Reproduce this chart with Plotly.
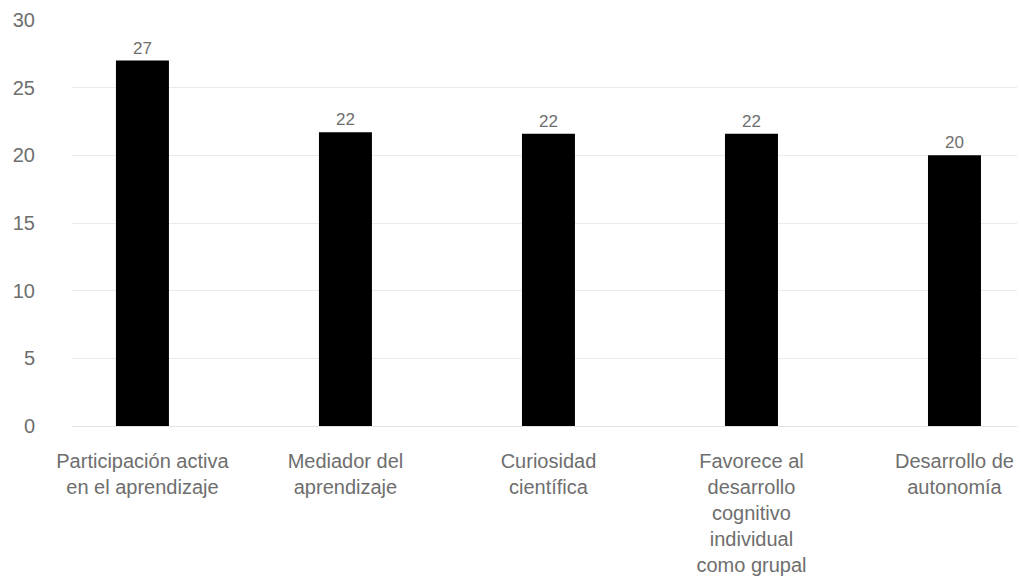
import plotly.graph_objects as go

categories = [
    "Participación activa<br>en el aprendizaje",
    "Mediador del<br>aprendizaje",
    "Curiosidad<br>científica",
    "Favorece al<br>desarrollo<br>cognitivo<br>individual<br>como grupal",
    "Desarrollo de<br>autonomía",
]
values = [27, 21.7, 21.6, 21.6, 20]
y_ticks = [0, 5, 10, 15, 20, 25, 30]

FONT = "Liberation Sans, Arial, Helvetica, sans-serif"
TEXT_GREY = "#6e6e6e"

fig = go.Figure(
    go.Bar(
        x=list(range(len(categories))),
        y=values,
        width=0.261,
        marker=dict(color="#000000", line=dict(width=0)),
        texttemplate="%{y:.0f}",
        textposition="outside",
        textfont=dict(family=FONT, size=17, color=TEXT_GREY),
        cliponaxis=False,
    )
)

fig.update_layout(
    width=1021,
    height=581,
    margin=dict(l=72, r=4, t=20, b=155),
    plot_bgcolor="white",
    paper_bgcolor="white",
    showlegend=False,
    font=dict(family=FONT, color=TEXT_GREY),
)

fig.update_xaxes(
    tickmode="array",
    tickvals=list(range(len(categories))),
    ticktext=categories,
    range=[-0.347, 4.308],
    showgrid=False,
    showline=False,
    zeroline=False,
    ticks="",
    tickangle=0,
    tickfont=dict(family=FONT, size=20, color=TEXT_GREY),
    ticklabelstandoff=21,
)

fig.update_yaxes(
    range=[0, 30],
    tickmode="array",
    tickvals=y_ticks,
    showgrid=True,
    gridcolor="#ebebeb",
    gridwidth=1,
    zeroline=True,
    zerolinecolor="#e3e3e3",
    zerolinewidth=1,
    showline=False,
    ticks="",
    tickfont=dict(family=FONT, size=20, color=TEXT_GREY),
    ticklabelstandoff=36,
)

fig.write_html("out.html")
